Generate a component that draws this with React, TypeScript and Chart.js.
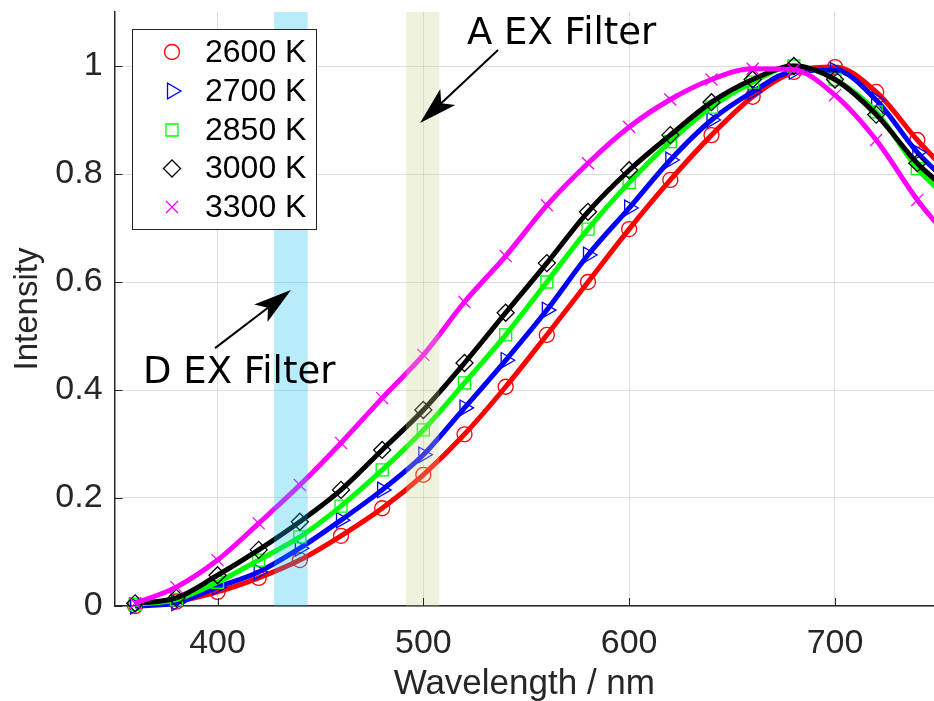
import React, { useEffect, useRef } from 'react';
import { Chart, registerables } from 'chart.js';

Chart.register(...registerables);

// ---- data ----
const WAVELENGTHS = [360, 380, 400, 420, 440, 460, 480, 500, 520, 540, 560, 580, 600, 620, 640, 660, 680, 700, 720, 740, 750];
const SERIES_LABELS = ['2600 K', '2700 K', '2850 K', '3000 K', '3300 K'];
const I_2600 = [0.0, 0.008, 0.026, 0.052, 0.085, 0.13, 0.181, 0.243, 0.318, 0.406, 0.502, 0.6, 0.698, 0.789, 0.872, 0.943, 0.989, 0.998, 0.952, 0.863, 0.822];
const I_2700 = [0.0, 0.006, 0.035, 0.063, 0.107, 0.159, 0.215, 0.28, 0.367, 0.455, 0.548, 0.65, 0.737, 0.826, 0.9, 0.952, 0.99, 0.992, 0.937, 0.84, 0.802];
const I_2850 = [0.003, 0.012, 0.044, 0.085, 0.128, 0.185, 0.252, 0.326, 0.413, 0.502, 0.6, 0.698, 0.784, 0.86, 0.924, 0.97, 1.0, 0.975, 0.915, 0.81, 0.772];
const I_3000 = [0.005, 0.015, 0.057, 0.104, 0.156, 0.215, 0.289, 0.363, 0.45, 0.543, 0.635, 0.73, 0.807, 0.872, 0.933, 0.975, 1.0, 0.975, 0.91, 0.82, 0.785];
const I_3300 = [0.005, 0.035, 0.085, 0.153, 0.224, 0.302, 0.385, 0.465, 0.563, 0.648, 0.742, 0.82, 0.887, 0.938, 0.975, 0.995, 0.993, 0.946, 0.863, 0.752, 0.705];
const X_TICKS = [400, 500, 600, 700];
const Y_TICKS = [0, 0.2, 0.4, 0.6, 0.8, 1];
const D_BAND = [427.5, 443.8];
const A_BAND = [491.6, 507.8];

const COLORS = ['#ff0000', '#0000ff', '#00ff00', '#000000', '#ff00ff'];
const STYLES = ['circle', 'triangle', 'rect', 'rectRot', 'crossRot'];
const RADII = [7.5, 9, 8.5, 8.5, 8.5];
const ROTS = [0, 90, 0, 0, 0];
const SERIES = [I_2600, I_2700, I_2850, I_3000, I_3300];

const AXIS_COLOR = '#262626';
const TICK_FONT = 'Liberation Sans, Arial, sans-serif';
const ANNOT_FONT = 'DejaVu Sans, sans-serif';

function drawMarker(ctx: CanvasRenderingContext2D, style: string, x: number, y: number, r: number, rotDeg: number) {
  const rad = (rotDeg * Math.PI) / 180;
  ctx.beginPath();
  if (style === 'circle') {
    ctx.arc(x, y, r, 0, Math.PI * 2);
  } else if (style === 'triangle') {
    let a = rad;
    ctx.moveTo(x + Math.sin(a) * r, y - Math.cos(a) * r);
    a += (2 * Math.PI) / 3;
    ctx.lineTo(x + Math.sin(a) * r, y - Math.cos(a) * r);
    a += (2 * Math.PI) / 3;
    ctx.lineTo(x + Math.sin(a) * r, y - Math.cos(a) * r);
    ctx.closePath();
  } else if (style === 'rect') {
    const s = Math.SQRT1_2 * r;
    ctx.rect(x - s, y - s, 2 * s, 2 * s);
  } else if (style === 'rectRot') {
    ctx.moveTo(x - r, y);
    ctx.lineTo(x, y - r);
    ctx.lineTo(x + r, y);
    ctx.lineTo(x, y + r);
    ctx.closePath();
  } else if (style === 'crossRot') {
    const s = Math.SQRT1_2 * r;
    ctx.moveTo(x - s, y - s);
    ctx.lineTo(x + s, y + s);
    ctx.moveTo(x - s, y + s);
    ctx.lineTo(x + s, y - s);
  }
  ctx.stroke();
}

function drawArrow(ctx: CanvasRenderingContext2D, x0: number, y0: number, x1: number, y1: number) {
  const dx = x1 - x0;
  const dy = y1 - y0;
  const len = Math.hypot(dx, dy);
  const ux = dx / len;
  const uy = dy / len;
  const px = -uy;
  const py = ux;
  const L = 38;
  const W = 11;
  const N = 29;
  ctx.save();
  ctx.strokeStyle = '#000';
  ctx.fillStyle = '#000';
  ctx.lineWidth = 2;
  ctx.beginPath();
  ctx.moveTo(x0, y0);
  ctx.lineTo(x1 - ux * N, y1 - uy * N);
  ctx.stroke();
  ctx.beginPath();
  ctx.moveTo(x1, y1);
  ctx.lineTo(x1 - ux * L + px * W, y1 - uy * L + py * W);
  ctx.lineTo(x1 - ux * N, y1 - uy * N);
  ctx.lineTo(x1 - ux * L - px * W, y1 - uy * L - py * W);
  ctx.closePath();
  ctx.fill();
  ctx.restore();
}

const bandsPlugin = {
  id: 'bands',
  afterDatasetsDraw(chart: any) {
    const { ctx, chartArea, scales } = chart;
    const x = scales.x;
    ctx.save();
    ctx.fillStyle = 'rgba(22,192,242,0.3)';
    const d0 = x.getPixelForValue(D_BAND[0]);
    const d1 = x.getPixelForValue(D_BAND[1]);
    ctx.fillRect(d0, chartArea.top, d1 - d0, chartArea.bottom - chartArea.top);
    ctx.fillStyle = 'rgba(202,215,142,0.3)';
    const a0 = x.getPixelForValue(A_BAND[0]);
    const a1 = x.getPixelForValue(A_BAND[1]);
    ctx.fillRect(a0, chartArea.top, a1 - a0, chartArea.bottom - chartArea.top);
    ctx.restore();
  },
};

const overlayPlugin = {
  id: 'overlay',
  afterDraw(chart: any) {
    const { ctx, chartArea, scales } = chart;
    const x = scales.x;
    const y = scales.y;
    ctx.save();
    // inward ticks
    ctx.strokeStyle = AXIS_COLOR;
    ctx.lineWidth = 1;
    ctx.beginPath();
    X_TICKS.forEach((v) => {
      const px = Math.round(x.getPixelForValue(v)) + 0.5;
      ctx.moveTo(px, chartArea.bottom);
      ctx.lineTo(px, chartArea.bottom - 8);
    });
    Y_TICKS.forEach((v) => {
      const py = Math.round(y.getPixelForValue(v)) + 0.5;
      ctx.moveTo(chartArea.left, py);
      ctx.lineTo(chartArea.left + 8, py);
    });
    ctx.stroke();

    // legend
    const lx = 132.5;
    const ly = 29.5;
    ctx.fillStyle = '#ffffff';
    ctx.fillRect(lx, ly, 184, 200);
    ctx.strokeStyle = AXIS_COLOR;
    ctx.lineWidth = 1;
    ctx.strokeRect(lx, ly, 184, 200);
    const rows = [52, 91, 130, 168.5, 207];
    SERIES_LABELS.forEach((lab, i) => {
      ctx.strokeStyle = COLORS[i];
      ctx.lineWidth = 1.3;
      drawMarker(ctx, STYLES[i], 172, rows[i], RADII[i], ROTS[i]);
      ctx.fillStyle = '#000';
      ctx.font = `32px ${TICK_FONT}`;
      ctx.textBaseline = 'middle';
      ctx.textAlign = 'left';
      ctx.fillText(lab, 205, rows[i] + 1);
    });

    // annotations (data coordinates)
    ctx.fillStyle = '#000';
    ctx.font = `37px ${ANNOT_FONT}`;
    ctx.textBaseline = 'alphabetic';
    ctx.textAlign = 'left';
    ctx.fillText('A EX Filter', x.getPixelForValue(521.2), y.getPixelForValue(1.0408));
    ctx.fillText('D EX Filter', x.getPixelForValue(363.8), y.getPixelForValue(0.4126));
    drawArrow(ctx, x.getPixelForValue(536.3), y.getPixelForValue(1.0297), x.getPixelForValue(498.4), y.getPixelForValue(0.8944));
    drawArrow(ctx, x.getPixelForValue(398.8), y.getPixelForValue(0.4775), x.getPixelForValue(435.7), y.getPixelForValue(0.585));
    ctx.restore();
  },
};

const zeroPad = (s: any) => {
  s.paddingTop = 0;
  s.paddingBottom = 0;
  s.paddingLeft = 0;
  s.paddingRight = 0;
};

export default function App() {
  const ref = useRef<HTMLCanvasElement | null>(null);
  useEffect(() => {
    document.body.style.margin = '0';
    document.body.style.overflow = 'hidden';
    const canvas = ref.current;
    if (!canvas) return;
    const lastIdx = WAVELENGTHS.length - 1;
    const datasets = SERIES.map((vals, i) => ({
      label: SERIES_LABELS[i],
      data: vals.map((v, k) => ({ x: WAVELENGTHS[k], y: v })),
      borderColor: COLORS[i],
      backgroundColor: 'rgba(0,0,0,0)',
      borderWidth: 5,
      cubicInterpolationMode: 'monotone' as const,
      pointStyle: STYLES[i],
      pointRotation: ROTS[i],
      pointRadius: (c: any) => (c.dataIndex === lastIdx ? 0 : RADII[i]),
      pointBorderColor: COLORS[i],
      pointBackgroundColor: 'rgba(0,0,0,0)',
      pointBorderWidth: 1.3,
      order: 5 - i,
      clip: false as any,
    }));
    const chart = new Chart(canvas, {
      type: 'line',
      data: { datasets },
      options: {
        animation: false,
        responsive: false,
        devicePixelRatio: 1,
        layout: { autoPadding: false, padding: { top: 12, left: 0, right: 0, bottom: 0 } },
        plugins: { legend: { display: false }, tooltip: { enabled: false } },
        scales: {
          x: {
            type: 'linear',
            min: 350,
            max: 748.1,
            afterBuildTicks: (s: any) => {
              s.ticks = X_TICKS.map((v) => ({ value: v }));
            },
            afterFit: (s: any) => {
              s.height = 95;
              zeroPad(s);
            },
            ticks: {
              color: AXIS_COLOR,
              font: { family: TICK_FONT, size: 34 },
              padding: 17,
              maxRotation: 0,
              callback: (v: any) => String(v),
            },
            grid: { color: 'rgba(0,0,0,0.13)', drawTicks: false, lineWidth: 1 },
            border: { display: true, color: AXIS_COLOR, width: 1.5 },
            title: {
              display: true,
              text: 'Wavelength / nm',
              color: AXIS_COLOR,
              font: { family: TICK_FONT, size: 35, lineHeight: 0.95 },
              padding: { top: 0, bottom: 0 },
            },
          },
          y: {
            type: 'linear',
            min: 0,
            max: 1.1,
            afterBuildTicks: (s: any) => {
              s.ticks = Y_TICKS.map((v) => ({ value: v }));
            },
            afterFit: (s: any) => {
              s.width = 114.6;
              zeroPad(s);
            },
            ticks: {
              color: AXIS_COLOR,
              font: { family: TICK_FONT, size: 34 },
              padding: 12,
              callback: (v: any) => String(Math.round(v * 10) / 10),
            },
            grid: { color: 'rgba(0,0,0,0.13)', drawTicks: false, lineWidth: 1 },
            border: { display: true, color: AXIS_COLOR, width: 1.5 },
            title: {
              display: true,
              text: 'Intensity',
              color: AXIS_COLOR,
              font: { family: TICK_FONT, size: 33, lineHeight: 1.2 },
              padding: { top: 8, bottom: 0 },
            },
          },
        },
      },
      plugins: [bandsPlugin, overlayPlugin],
    } as any);
    return () => chart.destroy();
  }, []);
  return <canvas ref={ref} width={934} height={701} style={{ display: 'block' }} />;
}
